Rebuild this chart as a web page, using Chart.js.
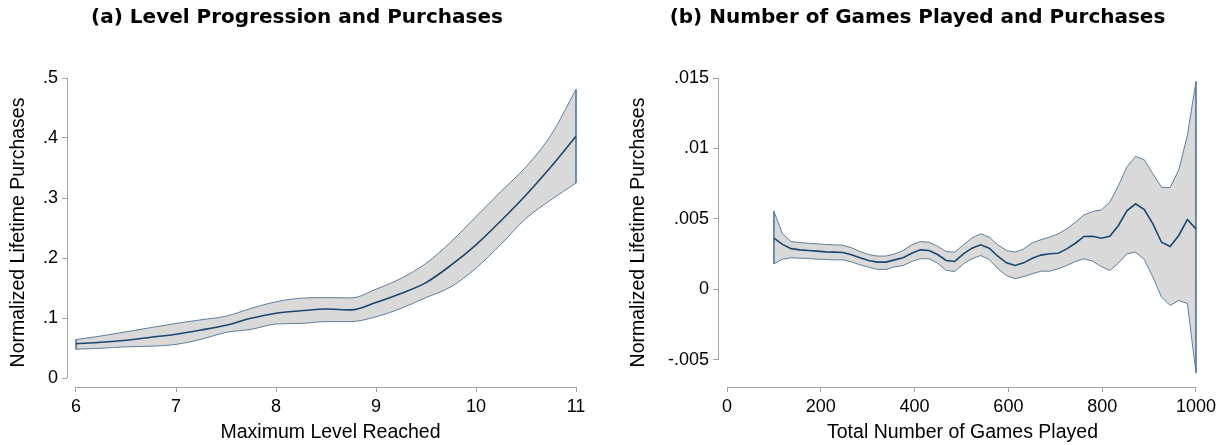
<!DOCTYPE html>
<html>
<head>
<meta charset="utf-8">
<script src="https://cdn.jsdelivr.net/npm/chart.js@4.4.1/dist/chart.umd.min.js"></script>
<style>
  html, body { margin: 0; padding: 0; background: #fff; }
  body { width: 1227px; height: 445px; position: relative; overflow: hidden; }
  .panel { position: absolute; top: 0; height: 445px; }
  #panelA { left: 0; width: 594px; }
  #panelB { left: 608px; width: 619px; }
</style>
</head>
<body>
<div class="panel" id="panelA"><canvas id="chartA" width="594" height="445"></canvas></div>
<div class="panel" id="panelB"><canvas id="chartB" width="619" height="445"></canvas></div>
<script>
// ---- Panel (a): level progression ----
const levelX     = [6, 6.25, 6.5, 6.75, 7, 7.25, 7.5, 7.75, 8, 8.25, 8.5, 8.75, 9, 9.25, 9.5, 9.75, 10, 10.25, 10.5, 10.75, 11];
const levelMean  = [0.057, 0.0595, 0.063, 0.068, 0.073, 0.080, 0.088, 0.0995, 0.108, 0.112, 0.115, 0.1135, 0.126, 0.141, 0.159, 0.188, 0.222, 0.262, 0.305, 0.352, 0.403];
const levelUpper = [0.064, 0.070, 0.077, 0.084, 0.091, 0.097, 0.103, 0.116, 0.127, 0.133, 0.134, 0.1335, 0.148, 0.166, 0.191, 0.227, 0.269, 0.311, 0.352, 0.405, 0.481];
const levelLower = [0.048, 0.0495, 0.052, 0.053, 0.056, 0.0645, 0.076, 0.081, 0.090, 0.091, 0.094, 0.094, 0.102, 0.116, 0.134, 0.152, 0.183, 0.223, 0.266, 0.297, 0.325];
const levelXTicks = [6, 7, 8, 9, 10, 11];
const levelXLabels = ['6', '7', '8', '9', '10', '11'];
const levelYTicks = [0, 0.1, 0.2, 0.3, 0.4, 0.5];
const levelYLabels = ['0', '.1', '.2', '.3', '.4', '.5'];

// ---- Panel (b): number of games played ----
const gamesX = [100, 118.4, 136.7, 155.1, 173.5, 191.8, 210.2, 228.6, 246.9, 265.3,
  283.7, 302.0, 320.4, 338.8, 357.1, 375.5, 393.9, 412.2, 430.6, 449.0,
  467.3, 485.7, 504.1, 522.4, 540.8, 559.2, 577.6, 595.9, 614.3, 632.7,
  651.0, 669.4, 687.8, 706.1, 724.5, 742.9, 761.2, 779.6, 798.0, 816.3,
  834.7, 853.1, 871.4, 889.8, 908.2, 926.5, 944.9, 963.3, 981.6, 1000];
const gamesMean = [0.00364, 0.00320, 0.00290, 0.00281, 0.00277, 0.00272, 0.00267, 0.00265, 0.00262, 0.00246,
  0.00225, 0.00206, 0.00194, 0.00194, 0.00210, 0.00225, 0.00257, 0.00281, 0.00277, 0.00248,
  0.00206, 0.00199, 0.00253, 0.00293, 0.00317, 0.00293, 0.00236, 0.00189, 0.00170, 0.00189,
  0.00222, 0.00244, 0.00253, 0.00257, 0.00288, 0.00328, 0.00376, 0.00378, 0.00364, 0.00378,
  0.00454, 0.00560, 0.00608, 0.00567, 0.00466, 0.00335, 0.00305, 0.00383, 0.00496, 0.00430];
const gamesUpper = [0.00555, 0.00395, 0.00340, 0.00333, 0.00328, 0.00324, 0.00319, 0.00317, 0.00314, 0.00296,
  0.00269, 0.00248, 0.00237, 0.00237, 0.00252, 0.00277, 0.00317, 0.00340, 0.00335, 0.00307,
  0.00269, 0.00265, 0.00317, 0.00366, 0.00395, 0.00371, 0.00317, 0.00277, 0.00265, 0.00288,
  0.00331, 0.00353, 0.00371, 0.00395, 0.00430, 0.00477, 0.00529, 0.00553, 0.00565, 0.00619,
  0.00737, 0.00872, 0.00945, 0.00920, 0.00820, 0.00725, 0.00723, 0.00849, 0.01092, 0.01475];
const gamesLower = [0.00182, 0.00215, 0.00225, 0.00222, 0.00220, 0.00215, 0.00213, 0.00210, 0.00210, 0.00196,
  0.00175, 0.00158, 0.00143, 0.00142, 0.00160, 0.00170, 0.00199, 0.00218, 0.00218, 0.00187,
  0.00135, 0.00128, 0.00182, 0.00218, 0.00241, 0.00213, 0.00147, 0.00099, 0.00076, 0.00092,
  0.00111, 0.00130, 0.00130, 0.00147, 0.00170, 0.00199, 0.00218, 0.00201, 0.00163, 0.00135,
  0.00187, 0.00253, 0.00265, 0.00213, 0.00087, -0.00054, -0.00113, -0.00078, -0.00099, -0.00590];
const gamesXTicks = [0, 200, 400, 600, 800, 1000];
const gamesXLabels = ['0', '200', '400', '600', '800', '1000'];
const gamesYTicks = [-0.005, 0, 0.005, 0.01, 0.015];
const gamesYLabels = ['-.005', '0', '.005', '.01', '.015'];

// ---- Shared styling ----
const MEAN_COLOR = '#1a476f';
const BAND_LINE = '#5d7f9f';
const BAND_FILL = '#d9d9d9';
const AXIS_COLOR = '#a3a3a3';
const TEXT_COLOR = '#000000';

Chart.defaults.font.family = '"Liberation Sans", Arial, sans-serif';
Chart.defaults.color = TEXT_COLOR;

// Axis lines run only between the first and last tick (detached axes)
const axisLines = {
  id: 'axisLines',
  afterDraw(chart) {
    const { ctx, chartArea, scales } = chart;
    const x = scales.x, y = scales.y;
    const xt = x.ticks, yt = y.ticks;
    ctx.save();
    ctx.strokeStyle = AXIS_COLOR;
    ctx.lineWidth = 1;
    ctx.beginPath();
    const by = Math.round(chartArea.bottom) + 0.5;
    ctx.moveTo(x.getPixelForValue(xt[0].value), by);
    ctx.lineTo(x.getPixelForValue(xt[xt.length - 1].value), by);
    const lx = Math.round(chartArea.left) + 0.5;
    ctx.moveTo(lx, y.getPixelForValue(yt[0].value));
    ctx.lineTo(lx, y.getPixelForValue(yt[yt.length - 1].value));
    ctx.stroke();
    ctx.restore();
  }
};

function pts(xs, ys) { return xs.map((v, i) => ({ x: v, y: ys[i] })); }

function edgePts(xs, up, lo) {
  const n = xs.length - 1;
  return [
    { x: xs[0], y: up[0] }, { x: xs[0], y: lo[0] }, { x: xs[0], y: null },
    { x: xs[n], y: up[n] }, { x: xs[n], y: lo[n] }
  ];
}

function makeChart(canvasId, cfg) {
  const lineOpts = cfg.smooth
    ? { tension: 0.4, cubicInterpolationMode: 'monotone' }
    : { tension: 0 };
  return new Chart(document.getElementById(canvasId), {
    type: 'line',
    data: {
      datasets: [
        { data: pts(cfg.xs, cfg.mean), borderColor: MEAN_COLOR, borderWidth: 1.6, fill: false, ...lineOpts },
        { data: edgePts(cfg.xs, cfg.upper, cfg.lower), borderColor: BAND_LINE, borderWidth: 1, fill: false, tension: 0, spanGaps: false },
        { data: pts(cfg.xs, cfg.upper), borderColor: BAND_LINE, borderWidth: 1, fill: false, ...lineOpts },
        { data: pts(cfg.xs, cfg.lower), borderColor: BAND_LINE, borderWidth: 1, fill: '-1', backgroundColor: BAND_FILL, ...lineOpts }
      ]
    },
    options: {
      responsive: false,
      animation: false,
      devicePixelRatio: 1,
      elements: { point: { radius: 0, hoverRadius: 0 } },
      layout: { padding: cfg.padding },
      plugins: {
        legend: { display: false },
        tooltip: { enabled: false },
        title: {
          display: true,
          text: cfg.title,
          color: TEXT_COLOR,
          font: { family: '"DejaVu Sans", sans-serif', size: 20, weight: 'bold', lineHeight: 1.2 },
          padding: { top: 6, bottom: 48 }
        }
      },
      scales: {
        x: {
          type: 'linear',
          min: cfg.xMin, max: cfg.xMax,
          afterBuildTicks: (axis) => { axis.ticks = cfg.xTicks.map(v => ({ value: v })); },
          afterFit: (axis) => { axis.height = 58; },
          grid: { display: true, drawOnChartArea: false, drawTicks: true, tickLength: 5, color: AXIS_COLOR },
          border: { display: false },
          ticks: { font: { size: 18 }, color: TEXT_COLOR, padding: 4, maxRotation: 0, autoSkip: false,
                   callback: (v, i) => cfg.xLabels[i] },
          title: { display: true, text: cfg.xTitle, color: TEXT_COLOR, font: { size: 19.5, lineHeight: 1.2 }, padding: { top: 0, bottom: 1 } }
        },
        y: {
          type: 'linear',
          min: cfg.yMin, max: cfg.yMax,
          afterBuildTicks: (axis) => { axis.ticks = cfg.yTicks.map(v => ({ value: v })); },
          afterFit: (axis) => { axis.width = cfg.yWidth; },
          grid: { display: true, drawOnChartArea: false, drawTicks: true, tickLength: 5, color: AXIS_COLOR },
          border: { display: false },
          ticks: { font: { size: 18 }, color: TEXT_COLOR, padding: 4, autoSkip: false,
                   callback: (v, i) => cfg.yLabels[i] },
          title: { display: true, text: 'Normalized Lifetime Purchases', color: TEXT_COLOR,
                   font: { size: 19.5, lineHeight: 1 }, padding: { top: cfg.yTitlePad, bottom: 0 } }
        }
      }
    },
    plugins: [axisLines]
  });
}

makeChart('chartA', {
  smooth: true,
  xs: levelX, mean: levelMean, upper: levelUpper, lower: levelLower,
  title: '(a) Level Progression and Purchases',
  xTitle: 'Maximum Level Reached',
  xTicks: levelXTicks, xLabels: levelXLabels, yTicks: levelYTicks, yLabels: levelYLabels,
  xMin: 5.91, xMax: 11.18, yMin: -0.015, yMax: 0.5,
  yWidth: 67, yTitlePad: 8.5,
  padding: { left: 0, right: 0, top: 0, bottom: 0 }
});

makeChart('chartB', {
  smooth: false,
  xs: gamesX, mean: gamesMean, upper: gamesUpper, lower: gamesLower,
  title: '(b) Number of Games Played and Purchases',
  xTitle: 'Total Number of Games Played',
  xTicks: gamesXTicks, xLabels: gamesXLabels, yTicks: gamesYTicks, yLabels: gamesYLabels,
  xMin: -19.2, xMax: 1023.5, yMin: -0.006915, yMax: 0.015,
  yWidth: 90, yTitlePad: 0.5,
  padding: { left: 20, right: 20, top: 0, bottom: 0 }
});
</script>
</body>
</html>
